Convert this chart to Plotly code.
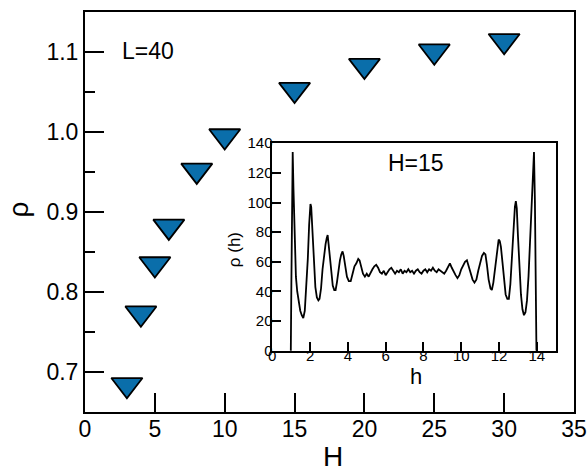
import plotly.graph_objects as go

# Main data: density vs H (L=40)
H_vals = [3, 4, 5, 6, 8, 10, 15, 20, 25, 30]
rho_vals = [0.684, 0.7735, 0.835, 0.882, 0.952, 0.995, 1.053, 1.083, 1.101, 1.114]

# Inset: density profile rho(h) for H=15
h_prof = [0.95, 0.98, 1.01, 1.04, 1.08, 1.12, 1.18, 1.25, 1.32, 1.40, 1.48, 1.56, 1.64, 1.72, 1.80,
          1.88, 1.95, 2.02, 2.06, 2.12, 2.20, 2.28, 2.36, 2.44, 2.50, 2.58, 2.66, 2.74, 2.82, 2.88,
          2.93, 2.98, 3.05, 3.12, 3.20, 3.28, 3.35, 3.42, 3.50, 3.58, 3.65, 3.72, 3.78, 3.86, 3.95,
          4.05, 4.15, 4.25, 4.35, 4.45, 4.55, 4.62, 4.70, 4.80, 4.90, 5.00, 5.10, 5.20, 5.30, 5.40,
          5.50, 5.60, 5.70, 5.80, 5.90, 6.00, 6.10, 6.20, 6.30, 6.40, 6.50, 6.60, 6.70, 6.80, 6.90,
          7.00, 7.10, 7.20, 7.30, 7.40, 7.50, 7.60, 7.70, 7.80, 7.90, 8.00, 8.10, 8.20, 8.30, 8.40,
          8.50, 8.60, 8.70, 8.80, 8.90, 9.00, 9.10, 9.20, 9.30, 9.40, 9.50, 9.60, 9.70, 9.80, 9.90,
          10.00, 10.10, 10.20, 10.30, 10.40, 10.50, 10.60, 10.70, 10.80, 10.90, 11.00, 11.10, 11.20,
          11.28, 11.36, 11.45, 11.55, 11.62, 11.70, 11.80, 11.90, 11.98, 12.04, 12.10, 12.18, 12.26,
          12.35, 12.44, 12.52, 12.60, 12.68, 12.76, 12.84, 12.89, 12.94, 13.00, 13.08, 13.16, 13.24,
          13.32, 13.40, 13.48, 13.56, 13.64, 13.72, 13.80, 13.85, 13.90, 13.94, 13.98]
rho_prof = [0, 0, 45, 100, 134, 110, 75, 50, 40, 32, 27, 24, 22, 27, 42,
            62, 85, 99, 97, 80, 58, 43, 36, 34, 35, 42, 55, 66, 72, 76,
            78, 72, 62, 52, 44, 41, 41, 46, 55, 61, 65, 67, 64, 58, 50,
            47, 47, 52, 57, 59, 62, 61, 56, 52, 50, 52, 50, 53, 55, 57,
            58, 56, 53, 52, 54, 51, 53, 55, 56, 54, 52, 54, 53, 55, 52,
            54, 53, 55, 53, 54, 52, 54, 55, 53, 52, 54, 55, 53, 55, 54,
            56, 54, 53, 55, 54, 53, 52, 54, 57, 59, 56, 53, 51, 49, 51,
            55, 58, 60, 61, 57, 52, 48, 46, 48, 54, 60, 64, 66,
            65, 58, 48, 42, 41, 46, 58, 69, 75, 74, 70, 60, 48,
            38, 35, 35, 45, 62, 82, 97, 101, 96, 78, 55, 38, 28,
            24, 26, 34, 50, 72, 98, 122, 134, 100, 45, 0]

FONT = "Liberation Sans, Arial, Helvetica, sans-serif"

fig = go.Figure()
fig.add_trace(go.Scatter(
    x=H_vals, y=rho_vals, mode="markers", xaxis="x", yaxis="y",
    marker=dict(symbol="triangle-down", size=27, color="#0a6eaa",
                line=dict(color="black", width=1.8)),
    showlegend=False, cliponaxis=False))
fig.add_trace(go.Scatter(
    x=h_prof, y=rho_prof, mode="lines", xaxis="x2", yaxis="y2",
    line=dict(color="black", width=1.8), showlegend=False))

fig.update_layout(
    template="none",
    width=587, height=470,
    margin=dict(l=85, r=13, t=12, b=58, autoexpand=False),
    paper_bgcolor="white", plot_bgcolor="white",
    font=dict(family=FONT, color="black"),
    xaxis=dict(range=[0, 35], dtick=5, tick0=0, domain=[0, 1], automargin=False,
               ticklabelstandoff=-5,
               showline=True, linecolor="black", linewidth=2, mirror=True,
               ticks="inside", ticklen=19, tickwidth=2, tickcolor="black",
               showgrid=False, zeroline=False, tickfont=dict(size=23, family=FONT)),
    yaxis=dict(range=[0.65, 1.15], dtick=0.1, tick0=0.7, tickformat=".1f", domain=[0, 1],
               automargin=False,
               showline=True, linecolor="black", linewidth=2, mirror=True,
               ticks="inside", ticklen=19, tickwidth=2, tickcolor="black",
               minor=dict(ticks="inside", ticklen=10, tickwidth=2, dtick=0.05,
                          tick0=0.65, tickcolor="black", showgrid=False),
               showgrid=False, zeroline=False, tickfont=dict(size=23, family=FONT)),
    xaxis2=dict(range=[0, 15], dtick=2, tick0=0, domain=[0.383, 0.9626], anchor="y2",
                automargin=False, ticklabelstandoff=-10,
                showline=True, linecolor="black", linewidth=1.6, mirror=True,
                ticks="inside", ticklen=9, tickwidth=1.5, tickcolor="black",
                showgrid=False, zeroline=False, tickfont=dict(size=15, family=FONT)),
    yaxis2=dict(range=[0, 140], dtick=20, tick0=0, domain=[0.153, 0.672], anchor="x2",
                automargin=False, ticklabelstandoff=-5,
                showline=True, linecolor="black", linewidth=1.6, mirror=True,
                ticks="inside", ticklen=9, tickwidth=1.5, tickcolor="black",
                showgrid=False, zeroline=False, tickfont=dict(size=15, family=FONT)),
)

ann = [
    dict(text="H", x=0.507, y=-0.11, font=dict(size=28)),
    dict(text="ρ", x=-0.138, y=0.505, font=dict(size=28), textangle=-90),
    dict(text="L=40", x=0.0716, y=0.9025, xanchor="left", font=dict(size=23)),
    dict(text="H=15", x=0.677, y=0.6225, font=dict(size=23)),
    dict(text="h", x=0.677, y=0.09, font=dict(size=22)),
    dict(text="ρ (h)", x=0.305, y=0.405, font=dict(size=17), textangle=-90),
]
for a in ann:
    a.setdefault("xanchor", "center")
    fig.add_annotation(xref="paper", yref="paper", showarrow=False, yanchor="middle",
                       font=dict(family=FONT, color="black", size=a["font"]["size"]),
                       **{k: v for k, v in a.items() if k != "font"})

fig.write_html("out.html")
